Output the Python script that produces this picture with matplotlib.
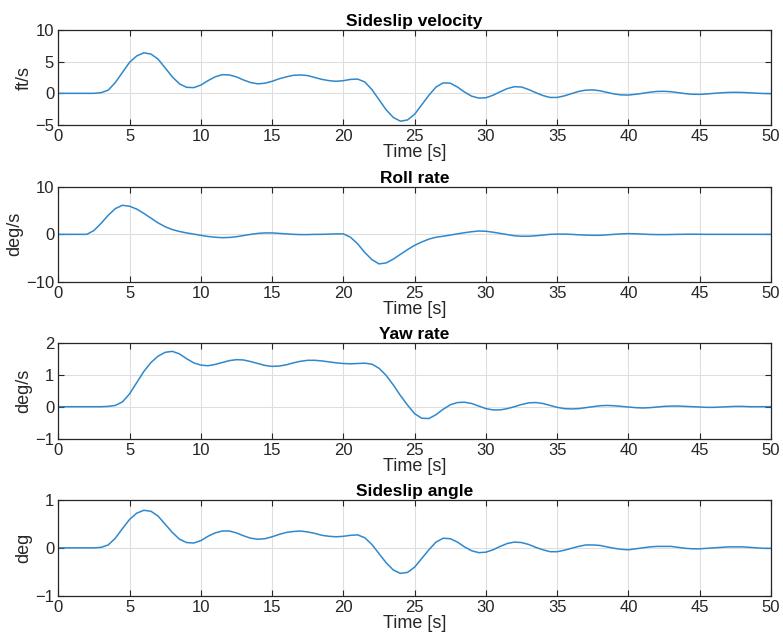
import numpy as np
import matplotlib
matplotlib.use("Agg")
import matplotlib.pyplot as plt

plt.rcParams['font.family'] = ['Liberation Sans', 'DejaVu Sans']

# time base (s)
time = np.arange(0, 50.01, 0.5)

sideslip_velocity = [
    0, 0, 0, 0, 0, 0, 0.1, 0.5, 1.7, 3.3,
    4.9, 5.9, 6.4, 6.2, 5.4, 4.0, 2.6, 1.5, 0.95, 0.9,
    1.3, 2.0, 2.6, 2.95, 2.9, 2.6, 2.1, 1.7, 1.5, 1.6,
    1.9, 2.3, 2.6, 2.85, 2.9, 2.8, 2.5, 2.2, 2.0, 1.9,
    2.0, 2.2, 2.25, 1.8, 0.6, -1.0, -2.6, -3.8, -4.4, -4.2,
    -3.3, -1.8, -0.3, 1.0, 1.65, 1.6, 1.0, 0.2, -0.45, -0.75,
    -0.7, -0.3, 0.25, 0.75, 1.05, 1.0, 0.6, 0.1, -0.35, -0.65,
    -0.65, -0.4, -0.05, 0.3, 0.5, 0.55, 0.4, 0.15, -0.1, -0.25,
    -0.27, -0.15, 0.0, 0.18, 0.3, 0.32, 0.25, 0.1, -0.05, -0.15,
    -0.16, -0.1, 0.0, 0.08, 0.14, 0.16, 0.14, 0.08, 0.02, -0.03,
    -0.05,
]

roll_rate = [
    0, 0, 0, 0, 0, 0.8, 2.3, 4.0, 5.4, 6.1,
    5.9, 5.3, 4.4, 3.4, 2.4, 1.6, 1.0, 0.6, 0.3, 0.05,
    -0.2, -0.45, -0.6, -0.7, -0.65, -0.5, -0.25, 0.0, 0.2, 0.3,
    0.3, 0.2, 0.1, 0.0, -0.05, -0.05, 0.0, 0.0, 0.05, 0.1,
    0.1, -0.6, -2.0, -3.8, -5.3, -6.2, -6.0, -5.2, -4.2, -3.2,
    -2.3, -1.6, -1.0, -0.6, -0.4, -0.15, 0.1, 0.35, 0.55, 0.7,
    0.65, 0.45, 0.2, -0.05, -0.3, -0.4, -0.4, -0.3, -0.15, 0.0,
    0.05, 0.05, 0.0, -0.1, -0.15, -0.2, -0.2, -0.1, 0.0, 0.1,
    0.15, 0.12, 0.05, -0.02, -0.05, -0.05, -0.03, 0.0, 0.02, 0.03,
    0.02, 0.0, 0.0, 0.0, 0.0, 0.0, 0.0, 0.0, 0.0, 0.0,
    0.0,
]

yaw_rate = [
    0, 0, 0, 0, 0, 0, 0, 0.01, 0.04, 0.15,
    0.4, 0.75, 1.1, 1.38, 1.58, 1.7, 1.73, 1.65, 1.5, 1.37,
    1.3, 1.28, 1.32, 1.38, 1.44, 1.47, 1.46, 1.41, 1.35, 1.29,
    1.26, 1.27, 1.31, 1.37, 1.42, 1.45, 1.45, 1.43, 1.4, 1.37,
    1.35, 1.34, 1.35, 1.36, 1.33, 1.2, 0.98, 0.68, 0.35, 0.05,
    -0.22, -0.36, -0.37, -0.25, -0.08, 0.06, 0.13, 0.14, 0.1, 0.02,
    -0.06, -0.1, -0.1, -0.06, 0.0, 0.07, 0.12, 0.13, 0.1, 0.04,
    -0.02, -0.06, -0.07, -0.06, -0.03, 0.0, 0.03, 0.04, 0.03, 0.01,
    -0.01, -0.03, -0.04, -0.03, -0.01, 0.01, 0.02, 0.02, 0.01, 0.0,
    -0.01, -0.02, -0.02, -0.01, 0.0, 0.01, 0.01, 0.0, 0.0, 0.0,
    0.0,
]

sideslip_angle = [
    0, 0, 0, 0, 0, 0, 0.01, 0.06, 0.2, 0.4,
    0.59, 0.72, 0.78, 0.76, 0.66, 0.49, 0.32, 0.18, 0.11, 0.1,
    0.15, 0.24, 0.31, 0.35, 0.35, 0.31, 0.25, 0.2, 0.18, 0.19,
    0.23, 0.28, 0.32, 0.34, 0.35, 0.33, 0.3, 0.26, 0.24, 0.23,
    0.24, 0.26, 0.27, 0.21, 0.07, -0.12, -0.31, -0.46, -0.53, -0.51,
    -0.4, -0.22, -0.04, 0.12, 0.2, 0.19, 0.12, 0.02, -0.06, -0.1,
    -0.09, -0.04, 0.03, 0.09, 0.12, 0.11, 0.07, 0.01, -0.04, -0.08,
    -0.08, -0.05, -0.01, 0.03, 0.06, 0.06, 0.05, 0.02, -0.01, -0.03,
    -0.04, -0.02, 0.0, 0.02, 0.03, 0.03, 0.03, 0.01, -0.01, -0.02,
    -0.02, -0.01, 0.0, 0.01, 0.02, 0.02, 0.02, 0.01, 0.0, -0.01,
    -0.01,
]

titles = ["Sideslip velocity", "Roll rate", "Yaw rate", "Sideslip angle"]
ylabels = ["ft/s", "deg/s", "deg/s", "deg"]
ylims = [(-5, 10), (-10, 10), (-1, 2), (-1, 1)]
yticks = [[-5, 0, 5, 10], [-10, 0, 10], [-1, 0, 1, 2], [-1, 0, 1]]
xticks = list(range(0, 51, 5))
xlabel = "Time [s]"
series = [sideslip_velocity, roll_rate, yaw_rate, sideslip_angle]

W, H = 783, 641
fig = plt.figure(figsize=(W / 100, H / 100), dpi=100)
# axes boxes in pixels: (top, bottom)
boxes = [(30, 125), (186.7, 282), (342.7, 438.7), (499.7, 596)]
left_px, right_px = 58.3, 771

edge = '#262626'
for i, (top, bot) in enumerate(boxes):
    ax = fig.add_axes([left_px / W, 1 - bot / H, (right_px - left_px) / W, (bot - top) / H])
    ax.plot(time, series[i], color='#2f88cc', lw=1.1, solid_joinstyle='round')
    ax.set_xlim(0, 50)
    ax.set_ylim(*ylims[i])
    ax.set_xticks(xticks)
    ax.set_yticks(yticks[i])
    ax.grid(True, color='#dedede', lw=0.8)
    ax.set_axisbelow(True)
    for s in ax.spines.values():
        s.set_color(edge)
        s.set_linewidth(0.9)
    ax.tick_params(direction='in', top=True, right=True, length=4, width=0.8,
                   color=edge, labelsize=12, labelcolor='#262626', pad=3)
    ax.set_title(titles[i], fontsize=12.5, fontweight='bold', pad=3, color='black')
    ax.set_ylabel(ylabels[i], fontsize=13, color='#262626', labelpad=2)
    ax.set_xlabel(xlabel, fontsize=13, color='#262626', labelpad=0)

fig.savefig("out.png", dpi=100)
